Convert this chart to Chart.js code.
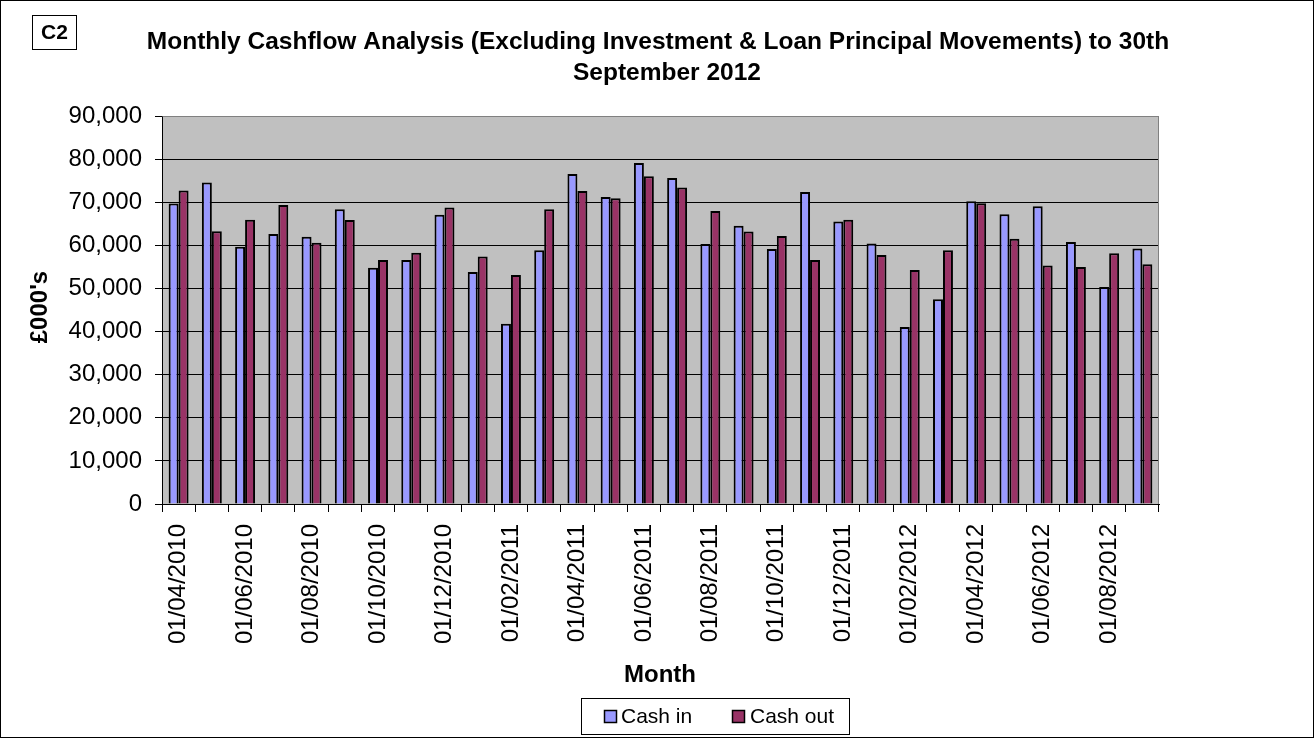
<!DOCTYPE html>
<html>
<head>
<meta charset="utf-8">
<script src="https://cdn.jsdelivr.net/npm/chart.js@4.4.0/dist/chart.umd.min.js"></script>
<style>
html,body{margin:0;padding:0;background:#fff;}
canvas{display:block;}
</style>
</head>
<body>
<canvas id="c" width="1316" height="740"></canvas>
<script>
const categories = ["01/04/2010","01/05/2010","01/06/2010","01/07/2010","01/08/2010","01/09/2010","01/10/2010","01/11/2010","01/12/2010","01/01/2011","01/02/2011","01/03/2011","01/04/2011","01/05/2011","01/06/2011","01/07/2011","01/08/2011","01/09/2011","01/10/2011","01/11/2011","01/12/2011","01/01/2012","01/02/2012","01/03/2012","01/04/2012","01/05/2012","01/06/2012","01/07/2012","01/08/2012","01/09/2012"];
const cashIn  = [69700,74600,59700,62600,62000,68350,54800,56600,67100,53800,41800,58850,76550,71200,79100,75600,60300,64550,59150,72400,65500,60450,41050,47500,70200,67200,69050,60800,50350,59250];
const cashOut = [72700,63250,65950,69350,60600,65900,56600,58300,68800,57400,53100,68350,72600,70900,76000,73400,67950,63200,62150,56600,65950,57750,54300,58850,69750,61500,55300,55000,58150,55600];
const yTicks = [0,10000,20000,30000,40000,50000,60000,70000,80000,90000];
const titleLines = ["Monthly Cashflow Analysis (Excluding Investment & Loan Principal Movements) to 30th","September 2012"];
const seriesNames = ["Cash in","Cash out"];

const FONT = "'Liberation Sans', Arial, sans-serif";
const fmt = v => v.toLocaleString('en-GB');

const decor = {
  id: 'decor',
  beforeDraw(chart) {
    const ctx = chart.ctx, a = chart.chartArea;
    ctx.save();
    ctx.fillStyle = '#fff';
    ctx.fillRect(0,0,chart.width,chart.height);
    ctx.fillStyle = '#C0C0C0';
    ctx.fillRect(a.left, a.top, a.right - a.left, a.bottom - a.top);
    ctx.restore();
  },
  afterDraw(chart) {
    const ctx = chart.ctx, a = chart.chartArea;
    ctx.save();
    ctx.strokeStyle = '#808080'; ctx.lineWidth = 1;
    ctx.beginPath();
    ctx.moveTo(a.left+0.5, a.top+0.5); ctx.lineTo(a.right-0.5, a.top+0.5); ctx.lineTo(a.right-0.5, a.bottom);
    ctx.stroke();
    ctx.strokeStyle = '#000';
    ctx.strokeRect(0.5, 0.5, 1313, 737);
    ctx.strokeRect(32.5, 15.5, 44, 34);
    ctx.fillStyle = '#000';
    ctx.font = "bold 21px " + FONT;
    ctx.textAlign = 'center'; ctx.textBaseline = 'middle';
    ctx.fillText('C2', 54.5, 33);
    ctx.font = "bold 24.5px " + FONT;
    ctx.fillText(titleLines[0], 658, 42);
    ctx.fillText(titleLines[1], 667, 73);
    ctx.font = "bold 24px " + FONT;
    ctx.fillText('Month', 660, 675);
    ctx.save();
    ctx.translate(40, 307);
    ctx.rotate(-Math.PI/2);
    ctx.fillText("£000's", 0, 0);
    ctx.restore();
    ctx.strokeStyle = '#000';
    ctx.strokeRect(581.5, 698.5, 268, 36);
    const cols = ['#9999FF','#993366'];
    const xs = [604, 732];
    const tx = [621, 750];
    ctx.font = "21px " + FONT;
    ctx.textAlign = 'left';
    for (let i=0;i<2;i++) {
      ctx.fillStyle = cols[i];
      ctx.fillRect(xs[i], 710, 13, 13);
      ctx.lineWidth = 1.5;
      ctx.strokeRect(xs[i]+0.5, 710.5, 12, 12);
      ctx.fillStyle = '#000';
      ctx.fillText(seriesNames[i], tx[i], 717);
    }
    ctx.restore();
  }
};

new Chart(document.getElementById('c'), {
  type: 'bar',
  data: {
    labels: categories,
    datasets: [
      { label: seriesNames[0], data: cashIn, backgroundColor: '#9999FF', borderColor: '#000', borderWidth: 2 },
      { label: seriesNames[1], data: cashOut, backgroundColor: '#993366', borderColor: '#000', borderWidth: 2 }
    ]
  },
  options: {
    responsive: false,
    animation: false,
    devicePixelRatio: 1,
    categoryPercentage: 0.6,
    barPercentage: 1,
    layout: { padding: { top: 116, right: 157, left: 0, bottom: 0 } },
    plugins: { legend: { display: false }, title: { display: false }, tooltip: { enabled: false } },
    scales: {
      x: {
        offset: true,
        afterFit(s) { s.height = 740 - 504; },
        grid: { offset: true, drawOnChartArea: false, color: '#000', tickLength: 8, tickColor: '#000' },
        border: { color: '#000' },
        ticks: {
          autoSkip: false, maxRotation: 90, minRotation: 90, padding: 12,
          color: '#000', font: { family: FONT, size: 24 },
          callback(v, i) { return i % 2 === 0 ? categories[i] : ''; }
        }
      },
      y: {
        min: 0, max: 90000,
        afterFit(s) { s.width = 162; },
        afterBuildTicks(s) { s.ticks = yTicks.map(v => ({ value: v })); },
        grid: {
          color: ctx => (ctx.tick && ctx.tick.value === 90000) ? '#808080' : '#000',
          tickColor: '#000', tickLength: 7
        },
        border: { color: '#000' },
        ticks: { color: '#000', padding: 13, font: { family: FONT, size: 24 }, callback: v => fmt(v) }
      }
    }
  },
  plugins: [decor]
});
</script>
</body>
</html>
